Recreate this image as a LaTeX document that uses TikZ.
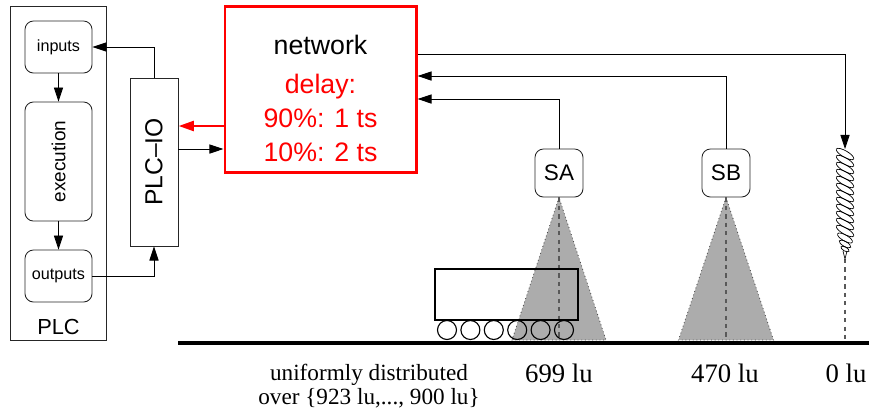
\documentclass[tikz,border=0pt]{standalone}
\usepackage{fontspec}
\setmainfont{Liberation Serif}
\setsansfont{Liberation Sans}
\usetikzlibrary{arrows.meta, shapes, positioning, calc}
\definecolor{NetzRot}{RGB}{255,0,0}
\definecolor{KegelGrau}{RGB}{172,172,172}

\tikzset{
    box/.style={draw=black!85, line width=0.6pt, inner sep=0pt, font=\sffamily},
    rbox/.style={box, rounded corners=6pt},
    pfeil/.style={-{Triangle[length=10pt,width=6.5pt]}, line width=0.6pt},
    kegel/.style={fill=KegelGrau, draw=black!70, dotted, line width=0.6pt},
    lot/.style={dashed, draw=black!65, line width=0.8pt},
    windung/.style={line width=0.5pt},
}

\begin{document}
\begin{tikzpicture}[x=0.025cm, y=-0.025cm]
    \useasboundingbox (0,0) rectangle (869,410);

    % PLC with its three stages
    \node[box, minimum width=2.4cm, minimum height=8.35cm] (plc) at (58.5,173) {};
    \node[font=\sffamily\fontsize{15.5}{18}\selectfont] (plclabel) at (58.5,327) {PLC};
    \node[rbox, minimum width=1.675cm, minimum height=1.3cm, font=\sffamily\fontsize{11.5}{14}\selectfont] (inputs) at (58.5,47) {inputs};
    \node[rbox, minimum width=1.675cm, minimum height=2.975cm, font=\sffamily\fontsize{13.5}{16}\selectfont] (execution) at (58.5,161.5) {\rotatebox{90}{execution}};
    \node[rbox, minimum width=1.675cm, minimum height=1.3cm, font=\sffamily\fontsize{11.5}{14}\selectfont] (outputs) at (58.5,276) {outputs};
    \node[box, minimum width=1.2cm, minimum height=4.2cm, font=\sffamily\fontsize{17.5}{20}\selectfont] (plcio) at (154,162) {\rotatebox{90}{PLC--IO}};

    % network
    \node[draw=NetzRot, line width=2.1pt, minimum width=4.775cm, minimum height=4.15cm] (network) at (320.5,89.5) {};
    \node[font=\sffamily\fontsize{19}{24}\selectfont] (nettitle) at (320.5,45) {network};
    \node[NetzRot, align=center, font=\sffamily\fontsize{19}{24}\selectfont] (delay) at (320.5,118) {delay:\\90\%: 1 ts\\10\%: 2 ts};

    % sensors
    \node[rbox, minimum size=1.2cm, font=\sffamily\fontsize{16}{18}\selectfont] (sa) at (559,173) {SA};
    \node[rbox, minimum size=1.2cm, font=\sffamily\fontsize{16}{18}\selectfont] (sb) at (726,173) {SB};
    \coordinate (screw) at (845,149);

    \filldraw[kegel] (sa.south) -- ($(sa.south |- 0,340)+(-47,0)$) -- ($(sa.south |- 0,340)+(47,0)$) -- cycle;
    \filldraw[kegel] (sb.south) -- ($(sb.south |- 0,340)+(-47.5,0)$) -- ($(sb.south |- 0,340)+(47.5,0)$) -- cycle;
    \draw[lot] (sa.south) -- (sa.south |- 0,341);
    \draw[lot] (sb.south) -- (sb.south |- 0,341);
    \draw[lot] (845,259) -- (845,341);

    % drill
    \foreach \i in {0,...,11}
        \draw[windung, rotate around={-30:(845,154+7*\i)}] (845,154+7*\i) ellipse (10 and 3.2);
    \draw[windung, rotate around={-30:(845,238)}] (845,238) ellipse (8.5 and 3);
    \draw[windung, rotate around={-30:(845,244)}] (845,244) ellipse (6.5 and 2.5);
    \draw[windung, rotate around={-30:(845,249)}] (845,249) ellipse (4.5 and 2);
    \draw[windung] (843,251) -- (845,259) -- (847,251);

    % cart
    \node[draw, line width=0.8pt, minimum width=3.575cm, minimum height=1.275cm] (cart) at (506.5,294.5) {};
    \foreach \x in {0,...,5}
        \draw[line width=0.8pt] (447+23.4*\x,330) circle (9.5);

    % ground
    \draw[line width=2.8pt] (178,343) -- (869,343);

    % connections
    \draw[pfeil] (inputs.south) -- (execution.north);
    \draw[pfeil] (execution.south) -- (outputs.north);
    \draw[pfeil] (plcio.north) |- (inputs.east);
    \draw[pfeil] (outputs.east) -| (plcio.south);
    \draw[-{Triangle[length=11pt,width=7pt]}, NetzRot, line width=2pt] (network.west |- 0,126) -- (plcio.east |- 0,126);
    \draw[pfeil] (plcio.east |- 0,149) -- (network.west |- 0,149);
    \draw[pfeil] (network.east |- 0,54) -| (screw);
    \draw[pfeil] (sa.north) |- (network.east |- 0,99);
    \draw[pfeil] (sb.north) |- (network.east |- 0,76);

    % positions
    \node[font=\fontsize{16.5}{17.5}\selectfont, align=center] (dist) at (369,386) {uniformly distributed\\over \{923 lu,..., 900 lu\}};
    \node[font=\fontsize{19}{20}\selectfont] (posa) at (559,373) {699 lu};
    \node[font=\fontsize{19}{20}\selectfont] (posb) at (725,373) {470 lu};
    \node[font=\fontsize{19}{20}\selectfont] (posc) at (846,373) {0 lu};
\end{tikzpicture}
\end{document}
